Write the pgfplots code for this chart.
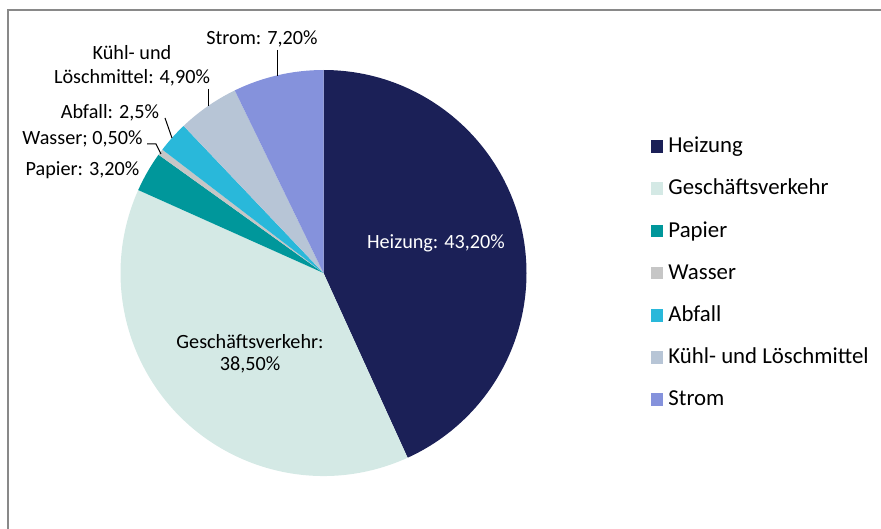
\documentclass[border=0pt]{standalone}
\usepackage{fontspec}
\setmainfont{Carlito}
\usepackage{pgfplots}
\pgfplotsset{compat=1.18}
\definecolor{cHeiz}{HTML}{1B2057}
\definecolor{cGesch}{HTML}{D4E9E5}
\definecolor{cPap}{HTML}{00979B}
\definecolor{cWas}{HTML}{C6C6C6}
\definecolor{cAbf}{HTML}{29B8DA}
\definecolor{cKuehl}{HTML}{B7C5D6}
\definecolor{cStrom}{HTML}{8592DC}
\definecolor{cFrame}{HTML}{898989}
\newcommand\lblfont{\fontsize{20.2bp}{23bp}\selectfont}
\newcommand\legfont{\fontsize{22.8bp}{26bp}\selectfont}
% slice: #1 = cumulative share before the slice (%), #2 = share (%), #3 = colour
\newcommand\slice[3]{\fill[#3] (axis cs:323.5,256) -- +({90-3.6*#1}:203bp) arc[start angle={90-3.6*#1}, delta angle={-3.6*#2}, radius=203bp] -- cycle;}
\begin{document}
\begin{tikzpicture}
\useasboundingbox (0,0) rectangle (881bp,529bp);
\begin{axis}[
  at={(0,0)}, anchor=origin,
  x=1bp, y=1bp,
  xmin=0, xmax=881, ymin=0, ymax=529,
  hide axis, clip=false,
  legend image code/.code={\fill[#1, draw=none] (0bp,-5bp) rectangle (12.5bp,7.5bp);},
  legend cell align=left,
  legend style={at={(0.7389,0.7397)}, anchor=north west, draw=none, fill=none,
    inner sep=0pt, outer sep=0pt, row sep=22.2bp, column sep=5bp, font=\legfont,
    nodes={inner sep=0pt, outer sep=0pt, text height=15bp, text depth=5bp}},
]
% frame
\draw[cFrame, line width=1.2bp] (axis cs:8,0) -- (axis cs:8,519) -- (axis cs:881,519);
% pie slices (values in %)
\slice{0}{43.2}{cHeiz}
\slice{43.2}{38.5}{cGesch}
\slice{81.7}{3.2}{cPap}
\slice{84.9}{0.5}{cWas}
\slice{85.4}{2.5}{cAbf}
\slice{87.9}{4.9}{cKuehl}
\slice{92.8}{7.2}{cStrom}
% leader lines
\draw[black, line width=1bp] (axis cs:277,479) -- (axis cs:277,453);
\draw[black, line width=1bp] (axis cs:208,440) -- (axis cs:208,423);
\draw[black, line width=1bp] (axis cs:165,411) -- (axis cs:172,391);
\draw[black, line width=1bp] (axis cs:147,385) -- (axis cs:156,385) -- (axis cs:161,375);
% data labels
\node[anchor=base, font=\lblfont, text=white, inner sep=0pt] at (axis cs:436,280.7) {Heizung: 43,20\%};
\node[anchor=base, font=\lblfont, inner sep=0pt] at (axis cs:250,180.7) {Geschäftsverkehr:};
\node[anchor=base, font=\lblfont, inner sep=0pt] at (axis cs:250,159) {38,50\%};
\node[anchor=base, font=\lblfont, inner sep=0pt] at (axis cs:82.5,354) {Papier: 3,20\%};
\node[anchor=base, font=\lblfont, inner sep=0pt] at (axis cs:82.5,385) {Wasser; 0,50\%};
\node[anchor=base, font=\lblfont, inner sep=0pt] at (axis cs:110,410.7) {Abfall: 2,5\%};
\node[anchor=base, font=\lblfont, inner sep=0pt] at (axis cs:132,445.7) {Löschmittel: 4,90\%};
\node[anchor=base, font=\lblfont, inner sep=0pt] at (axis cs:132,469) {Kühl- und};
\node[anchor=base, font=\lblfont, inner sep=0pt] at (axis cs:262,484) {Strom: 7,20\%};
% legend
\addlegendimage{fill=cHeiz}\addlegendentry{Heizung}
\addlegendimage{fill=cGesch}\addlegendentry{Geschäftsverkehr}
\addlegendimage{fill=cPap}\addlegendentry{Papier}
\addlegendimage{fill=cWas}\addlegendentry{Wasser}
\addlegendimage{fill=cAbf}\addlegendentry{Abfall}
\addlegendimage{fill=cKuehl}\addlegendentry{Kühl- und Löschmittel}
\addlegendimage{fill=cStrom}\addlegendentry{Strom}
\end{axis}
\end{tikzpicture}
\end{document}
